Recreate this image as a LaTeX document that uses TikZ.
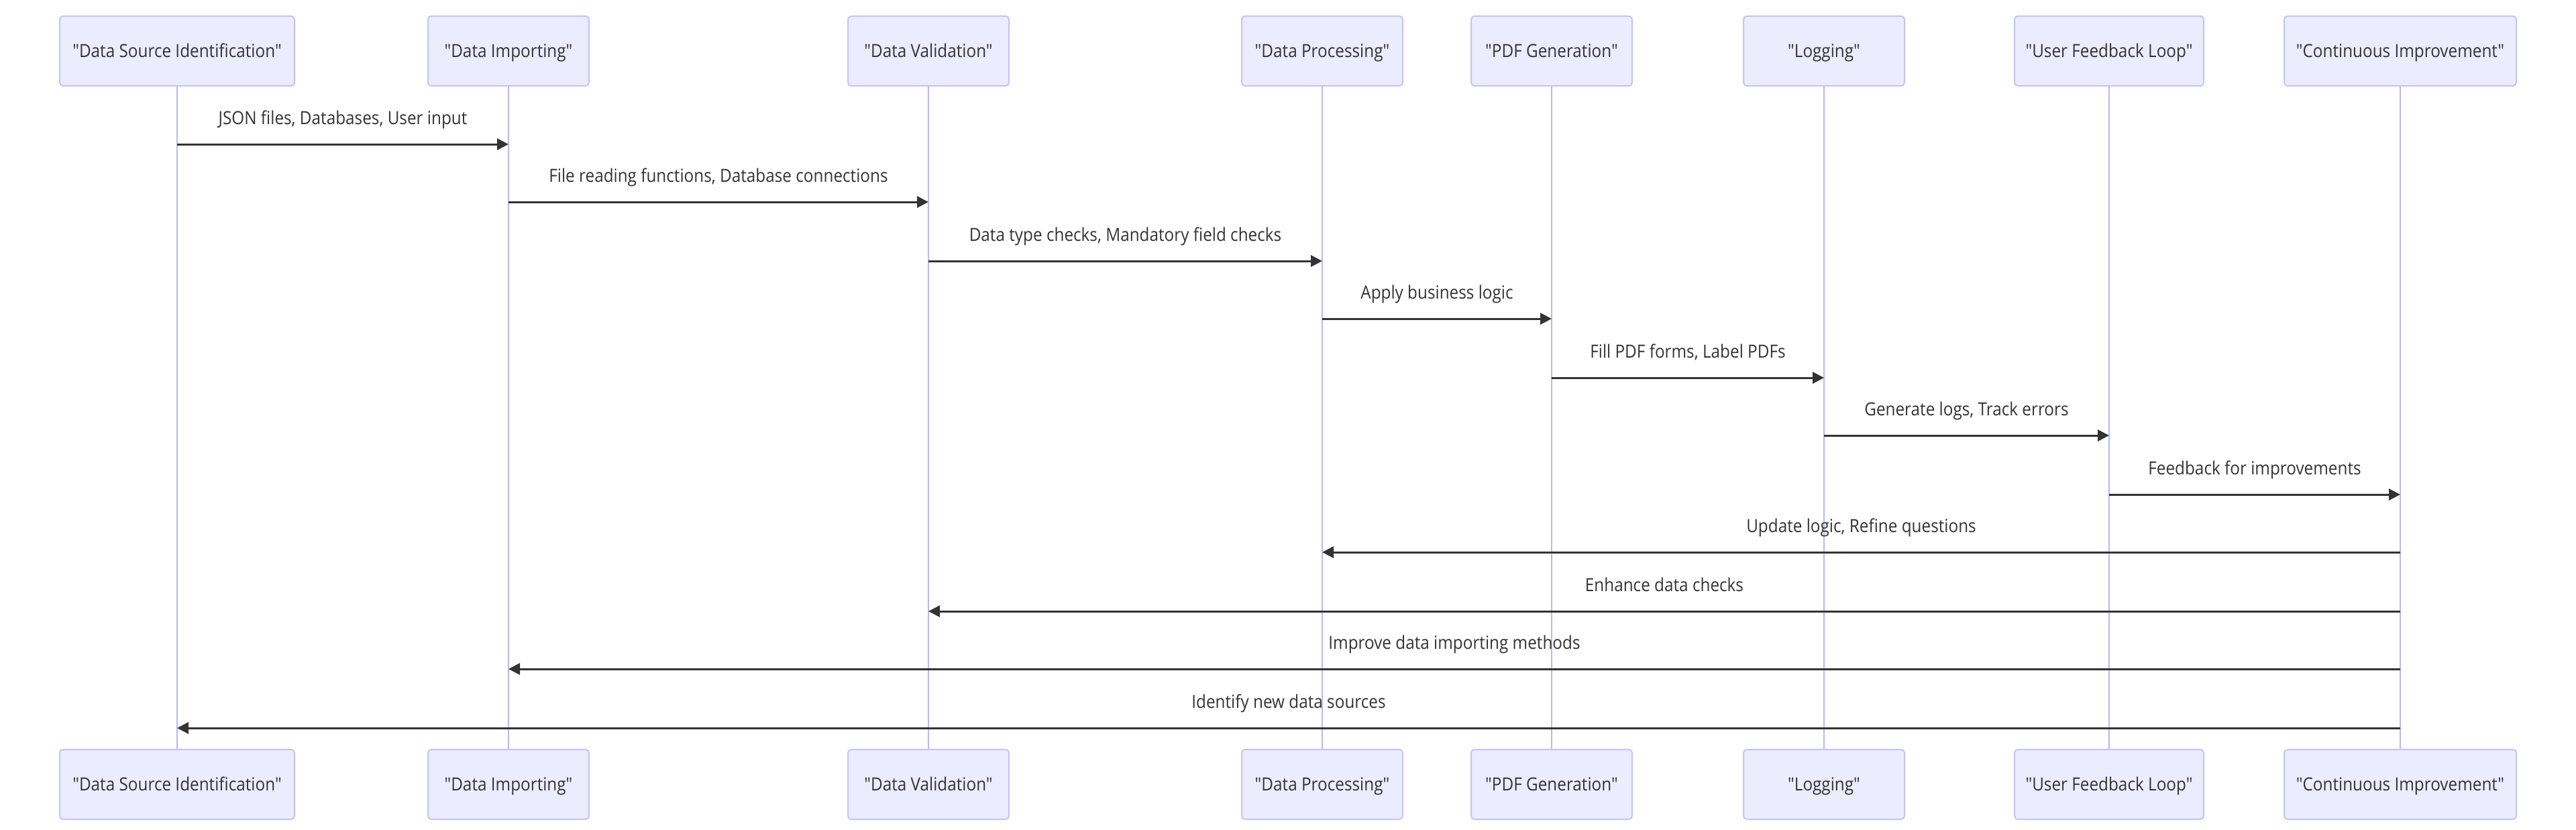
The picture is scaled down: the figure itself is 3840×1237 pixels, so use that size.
\documentclass[tikz,border=0pt]{standalone}
\usepackage{fontspec}
\setmainfont{Open Sans}[FakeStretch=0.9, Ligatures=TeXOff]
\usetikzlibrary{arrows.meta}

\definecolor{fond}{HTML}{ECECFF}
\definecolor{bordure}{HTML}{C4C4F8}
\definecolor{ligne}{HTML}{B8B8F8}
\definecolor{encre}{HTML}{333333}

\begin{document}
\begin{tikzpicture}[x=0.5pt, y=-0.5pt,
    acteur/.style={draw=bordure, fill=fond, line width=1pt, rounded corners=2.5pt, minimum height=52pt, text=encre, text height=12.4pt, text depth=3pt, font=\fontsize{13.5}{16}\selectfont},
    vie/.style={draw=ligne, line width=1.25pt},
    message/.style={draw=encre, line width=1.5pt, -{Triangle[length=8.5pt, width=8.5pt]}},
    etiquette/.style={text=encre, text height=12.4pt, text depth=3pt, font=\fontsize{13.5}{16}\selectfont, midway, yshift=19.5pt}]
    \useasboundingbox (0,0) rectangle (3840,1237);
    % Acteurs
    \foreach \nom/\x/\w/\texte in {dsi/264/175/{"Data Source Identification"}, di/758/120/{"Data Importing"}, dv/1384/120/{"Data Validation"}, dp/1971/120/{"Data Processing"}, pdf/2313/120/{"PDF Generation"}, log/2719/120/{"Logging"}, ufl/3144/141/{"User Feedback Loop"}, ci/3578/173/{"Continuous Improvement"}} {
        \node[acteur, minimum width=\w pt] (\nom-haut) at (\x,76) {\texte};
        \node[acteur, minimum width=\w pt] (\nom-bas) at (\x,1169) {\texte};
        \draw[vie] (\nom-haut.south) -- (\nom-bas.north);
    }
    % Messages
    \foreach \de/\a/\y/\texte in {dsi/di/215/{JSON files, Databases, User input}, di/dv/301/{File reading functions, Database connections}, dv/dp/389/{Data type checks, Mandatory field checks}, dp/pdf/475/{Apply business logic}, pdf/log/563/{Fill PDF forms, Label PDFs}, log/ufl/649/{Generate logs, Track errors}, ufl/ci/737/{Feedback for improvements}, ci/dp/823/{Update logic, Refine questions}, ci/dv/911/{Enhance data checks}, ci/di/997/{Improve data importing methods}, ci/dsi/1085/{Identify new data sources}} {
        \draw[message] (\de-haut |- 0,\y) -- (\a-haut |- 0,\y) node[etiquette] {\texte};
    }
\end{tikzpicture}
\end{document}
